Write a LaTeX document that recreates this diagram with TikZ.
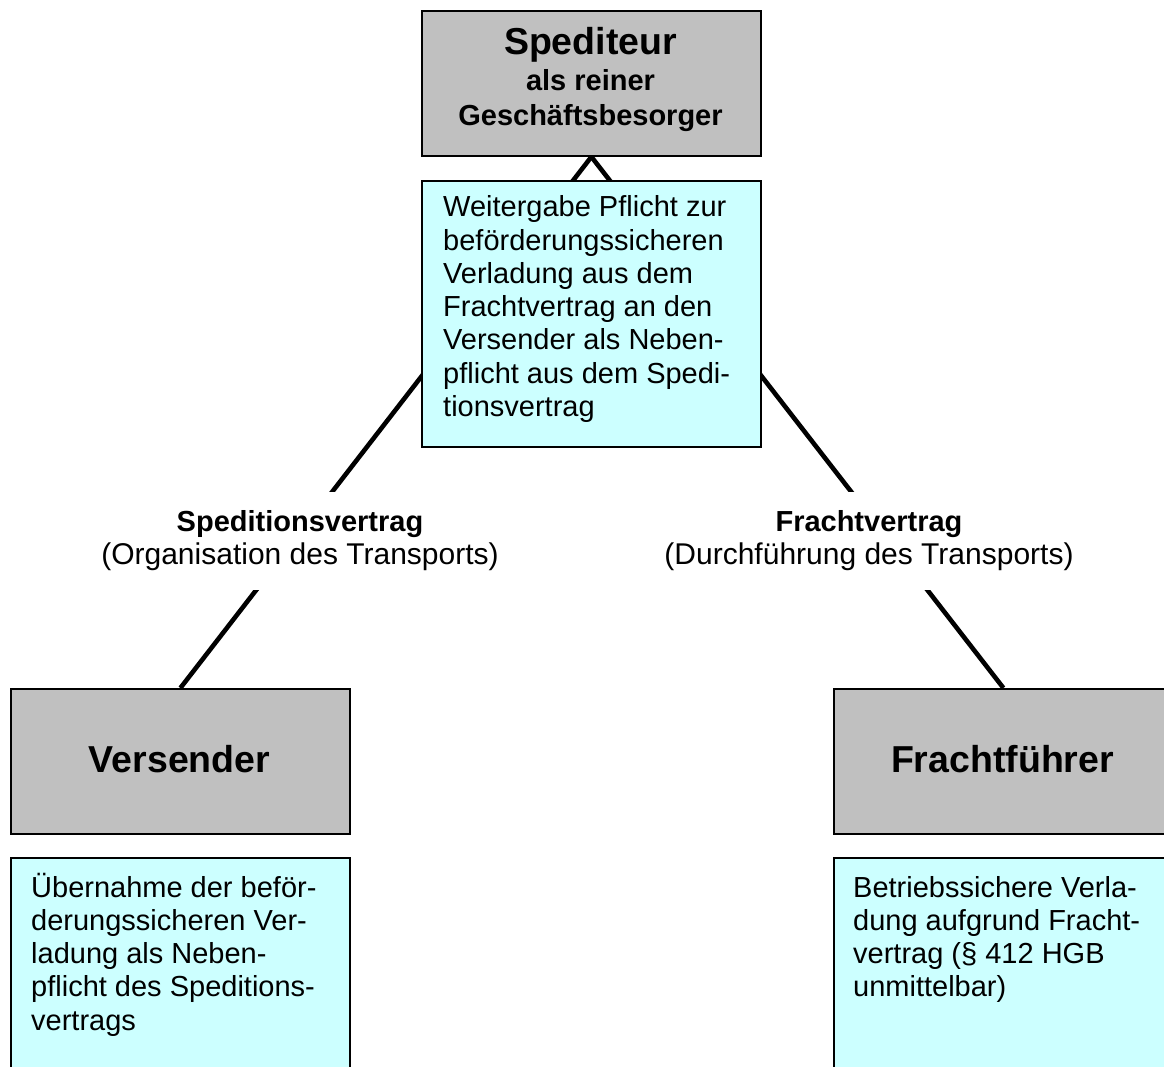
\documentclass[tikz,border=0pt]{standalone}
\usepackage{fontspec}
\setmainfont{Liberation Sans}
\usetikzlibrary{backgrounds}
\definecolor{boxgray}{HTML}{C0C0C0}
\definecolor{boxcyan}{HTML}{CCFFFF}
\begin{document}
\begin{tikzpicture}[x=1pt,y=-1pt,
  actor/.style={draw=black,line width=1.8pt,fill=boxgray,minimum width=339pt,minimum height=145pt,inner sep=0pt,anchor=north west},
  note/.style={draw=black,line width=1.8pt,fill=boxcyan,minimum width=339pt,inner sep=0pt,anchor=north west},
  link/.style={draw=black,line width=4.6pt},
  bodytext/.style={anchor=base west,inner sep=0pt,align=left,font=\fontsize{29}{33.3}\selectfont},
  bigtitle/.style={anchor=base,inner sep=0pt,font=\fontsize{37.5}{40}\selectfont\bfseries},
  subtitle/.style={anchor=base,inner sep=0pt,font=\fontsize{29}{33}\selectfont\bfseries},
  contract/.style={fill=white,inner xsep=4pt,inner ysep=0pt,minimum height=98pt,align=center,font=\fontsize{30}{33}\selectfont},
  contracthead/.style={font=\fontsize{29}{33}\selectfont\bfseries}
]
\useasboundingbox (0,0) rectangle (1164,1067);
\clip (0,0) rectangle (1164,1067);

% boxes
\node[actor] (sped) at (421,10) {};
\node[note, minimum height=266pt] (weiter) at (421,180) {};
\node[actor] (vers) at (10,688) {};
\node[actor] (fracht) at (833,688) {};
\node[note, minimum height=225pt] (uebern) at (10,857) {};
\node[note, minimum height=225pt] (betrieb) at (833,857) {};

% connectors behind everything
\begin{pgfonlayer}{background}
\draw[link] (sped.south) -- (vers.north);
\draw[link] (sped.south) -- (fracht.north);
\end{pgfonlayer}

% contract labels
\node[contract] (lblL) at (300,541) {{\fontsize{29}{33}\selectfont\bfseries Speditionsvertrag}\\(Organisation des Transports)};
\node[contract] (lblR) at (869,541) {{\fontsize{29}{33}\selectfont\bfseries Frachtvertrag}\\(Durchführung des Transports)};

% titles
\node[bigtitle] (spedA) at (590.5,54.3) {Spediteur};
\node[subtitle] (spedB) at (590.5,91) {als reiner};
\node[subtitle] (spedC) at (590.5,126) {Geschäftsbesorger};
\node[bigtitle] (versT) at (179.5,772) {Versender};
\node[bigtitle] (frachtT) at (1002.5,772) {Frachtführer};

% texts (base anchor = baseline of the last line)
\node[bodytext] (weiterT) at (443,416.5) {Weitergabe Pflicht zur\\beförderungssicheren\\Verladung aus dem\\Frachtvertrag an den\\Versender als Neben-\\pflicht aus dem Spedi-\\tionsvertrag};
\node[bodytext] (uebernT) at (31,1030.2) {Übernahme der beför-\\derungssicheren Ver-\\ladung als Neben-\\pflicht des Speditions-\\vertrags};
\node[bodytext] (betriebT) at (853,996.9) {Betriebssichere Verla-\\dung aufgrund Fracht-\\vertrag (§ 412 HGB\\unmittelbar)};
\end{tikzpicture}
\end{document}
